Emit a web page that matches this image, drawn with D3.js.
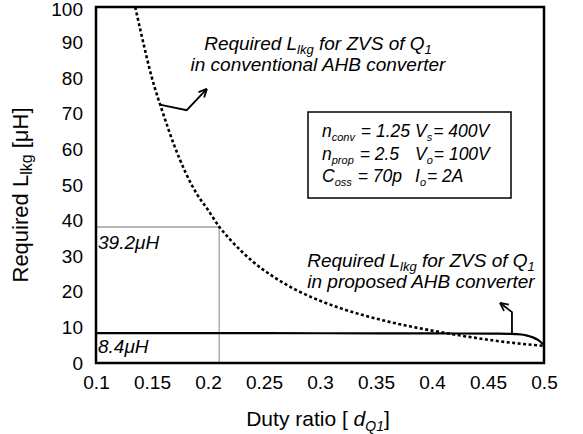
<!DOCTYPE html>
<html>
<head>
<meta charset="utf-8">
<script src="https://d3js.org/d3.v7.min.js"></script>
<style>
  body { margin: 0; background: #fff; }
  text { font-family: "Liberation Sans", Arial, sans-serif; fill: #000; }
</style>
</head>
<body>
<script>
// tick labels
var xTicks = [0.1, 0.15, 0.2, 0.25, 0.3, 0.35, 0.4, 0.45, 0.5];
var yTicks = [0, 10, 20, 30, 40, 50, 60, 70, 80, 90, 100];

// conventional AHB (dashed)
var dutyConv = [0.135, 0.14, 0.15, 0.16, 0.17, 0.18, 0.19, 0.2, 0.21, 0.22, 0.24, 0.26,
                0.28, 0.3, 0.32, 0.34, 0.36, 0.38, 0.4, 0.42, 0.44, 0.46, 0.48, 0.5];
var lConv = [100, 93, 80, 70, 61, 53.5, 47.5, 43, 38.3, 34.6, 28.5, 23.9,
             20.3, 17.5, 15.2, 13.3, 11.7, 10.3, 9.1, 8.0, 7.0, 6.1, 5.4, 4.8];

// proposed AHB (solid)
var dutyProp = [0.1, 0.2, 0.3, 0.4, 0.45, 0.47, 0.48, 0.485, 0.49, 0.495, 0.5];
var lProp = [8.4, 8.4, 8.35, 8.3, 8.25, 8.2, 8.0, 7.7, 7.2, 6.4, 5.0];

// marked operating point
var markDuty = 0.21, markConv = 38.2, markProp = 8.4;

var w = 583, h = 434;
var svg = d3.select("body").append("svg").attr("width", w).attr("height", h);

var x = d3.scaleLinear().domain([0.1, 0.5]).range([96, 544]);
var y = d3.scaleLinear().domain([0, 100]).range([363, 7]);

svg.append("clipPath").attr("id", "clip")
  .append("rect").attr("x", x(0.1)).attr("y", y(100)).attr("width", x(0.5) - x(0.1)).attr("height", y(0) - y(100));

var plot = svg.append("g").attr("clip-path", "url(#clip)");

// grey guides
plot.append("line").attr("x1", x(0.1)).attr("x2", x(markDuty)).attr("y1", y(markConv)).attr("y2", y(markConv))
  .attr("stroke", "#a0a0a0").attr("stroke-width", 1.3);
plot.append("line").attr("x1", x(markDuty)).attr("x2", x(markDuty)).attr("y1", y(0)).attr("y2", y(markConv))
  .attr("stroke", "#a0a0a0").attr("stroke-width", 1.3);

var line = d3.line().x(function(d) { return x(d[0]); }).y(function(d) { return y(d[1]); }).curve(d3.curveMonotoneX);

plot.append("path").datum(d3.zip(dutyConv, lConv)).attr("d", line)
  .attr("fill", "none").attr("stroke", "#000").attr("stroke-width", 2.6).attr("stroke-dasharray", "3,2.5");
plot.append("path").datum(d3.zip(dutyProp, lProp)).attr("d", line)
  .attr("fill", "none").attr("stroke", "#000").attr("stroke-width", 2.2);

// frame
svg.append("rect").attr("x", x(0.1)).attr("y", y(100)).attr("width", x(0.5) - x(0.1)).attr("height", y(0) - y(100))
  .attr("fill", "none").attr("stroke", "#000").attr("stroke-width", 2.5);

// axes
var xAxis = svg.append("g").attr("transform", "translate(0," + y(0) + ")")
  .call(d3.axisBottom(x).tickValues(xTicks).tickSize(0).tickPadding(13).tickFormat(d3.format("")));
var yAxis = svg.append("g").attr("transform", "translate(" + x(0.1) + ",0)")
  .call(d3.axisLeft(y).tickValues(yTicks).tickSize(0).tickPadding(13));
[xAxis, yAxis].forEach(function(a) {
  a.select(".domain").remove();
  a.selectAll("text").attr("font-size", 19).attr("font-family", "Liberation Sans, Arial, sans-serif").attr("fill", "#000");
});
yAxis.selectAll(".tick").filter(function(d) { return d === 100; }).select("text").attr("dy", "0.45em");

// axis titles
var xt = svg.append("text").attr("x", 318).attr("y", 426).attr("text-anchor", "middle").attr("font-size", 21);
xt.append("tspan").text("Duty ratio [ ");
xt.append("tspan").attr("font-style", "italic").text("d");
xt.append("tspan").attr("font-style", "italic").attr("font-size", 14).attr("dy", 5).text("Q1");
xt.append("tspan").attr("dy", -5).text("]");

var yt = svg.append("text").attr("transform", "translate(28,195) rotate(-90)").attr("text-anchor", "middle").attr("font-size", 22);
yt.append("tspan").text("Required L");
yt.append("tspan").attr("font-size", 16).attr("dy", 4).text("lkg");
yt.append("tspan").attr("dy", -4).text("  [\u03bcH]");

// value labels
svg.append("text").attr("x", x(0.1) + 2).attr("y", y(markConv) + 22).attr("font-size", 19).attr("font-style", "italic").text("39.2\u03bcH");
svg.append("text").attr("x", x(0.1) + 2).attr("y", y(markProp) + 20).attr("font-size", 19).attr("font-style", "italic").text("8.4\u03bcH");

// two-line italic annotation with L_lkg and Q_1 subscripts
function annot(cx, by, second) {
  var t = svg.append("text").attr("x", cx).attr("y", by).attr("text-anchor", "middle")
    .attr("font-size", 19).attr("font-style", "italic");
  t.append("tspan").text("Required L");
  t.append("tspan").attr("font-size", 13).attr("dy", 4).text("lkg");
  t.append("tspan").attr("dy", -4).text(" for ZVS of Q");
  t.append("tspan").attr("font-size", 13).attr("dy", 4).text("1");
  svg.append("text").attr("x", cx).attr("y", by + 21).attr("text-anchor", "middle")
    .attr("font-size", 19).attr("font-style", "italic").text(second);
}
annot(318, 50, "in conventional AHB converter");
annot(421, 267, "in proposed AHB converter");

// leader arrows
function leader(pts) {
  var p = pts.map(function(d) { return [x(d[0]), y(d[1])]; });
  svg.append("path").attr("d", d3.line()(p)).attr("fill", "none").attr("stroke", "#000").attr("stroke-width", 1.8);
  var a = p[p.length - 1], b = p[p.length - 2];
  var ang = Math.atan2(b[1] - a[1], b[0] - a[0]);
  [-0.45, 0.45].forEach(function(da) {
    svg.append("line").attr("x1", a[0]).attr("y1", a[1])
      .attr("x2", a[0] + 9 * Math.cos(ang + da)).attr("y2", a[1] + 9 * Math.sin(ang + da))
      .attr("stroke", "#000").attr("stroke-width", 1.8);
  });
}
leader([[0.158, 72.5], [0.181, 71], [0.199, 77]]);
leader([[0.4714, 8.3], [0.4714, 14.3], [0.4607, 16.9]]);

// parameter box
svg.append("rect").attr("x", 308).attr("y", 112).attr("width", 203).attr("height", 86)
  .attr("fill", "#fff").attr("stroke", "#000").attr("stroke-width", 1.5);
var params = [
  [["n", "conv", " = 1.25"], ["V", "s", "= 400V"]],
  [["n", "prop", " = 2.5"], ["V", "o", "= 100V"]],
  [["C", "oss", " = 70p"], ["I", "o", "= 2A"]]
];
params.forEach(function(row, i) {
  row.forEach(function(c, j) {
    var t = svg.append("text").attr("x", j ? 415 : 322).attr("y", 137 + i * 22.5)
      .attr("font-size", 17.5).attr("font-style", "italic");
    t.append("tspan").text(c[0]);
    t.append("tspan").attr("font-size", 11).attr("dy", 4).text(c[1]);
    t.append("tspan").attr("dy", -4).attr("dx", 1).text(c[2]);
  });
});
</script>
</body>
</html>
